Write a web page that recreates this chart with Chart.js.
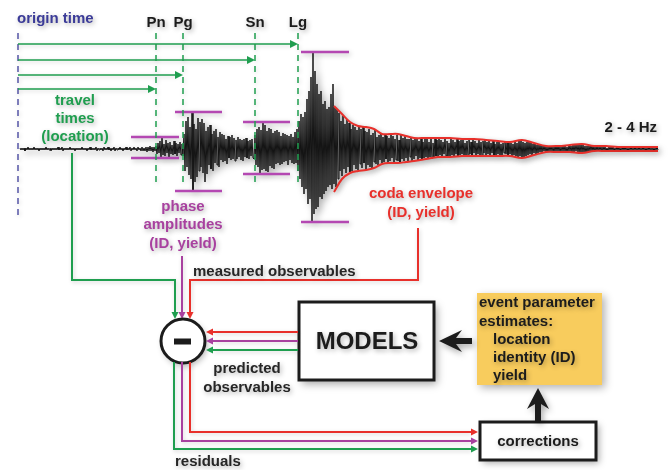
<!DOCTYPE html>
<html>
<head>
<meta charset="utf-8">
<script src="https://cdn.jsdelivr.net/npm/chart.js@4.4.1/dist/chart.umd.min.js"></script>
<style>
  html, body { margin: 0; padding: 0; background: #ffffff; }
  #wrap { width: 670px; height: 470px; }
</style>
</head>
<body>
<div id="wrap"><canvas id="c" width="670" height="470"></canvas></div>
<script>
// ---- seismogram: 2 - 4 Hz band, one sample every 0.25 s after the origin ----
const SAMPLE_START = 0.5;   // s
const SAMPLE_STEP = 0.25;   // s

const preEventNoise = [
  1,-1,1,-1,1,-2,1,-1,2,-1, 1,-1,1,-1,2,-1,1,-1,1,-2, 1,-1,1,-1,1,-1,2,-1,1,-1,
  1,-2,1,-1,1,-1,1,-1,2,-1, 1,-1,2,-2,1,-1,1,-1,1,-1, 2,-1,1,-1,1,-2,1,-1,1,-1,
  1,-1,2,-1,1,-1,1,-2,1,-1, 2,-1,1,-1,1,-1,2,-2,1,-1, 1,-1,1,-2,2,-1,1,-1,2,-1,
  1,-2,1,-1,2,-2,1,-1,1,-1, 2,-1,1,-2,1,-1,2,-1,1,-1, 2,-2,1,-1,2,-1,1,-2,2,-1,
  1,-2,2,-2,1,-2,2,-3,2,-2, 3,-2,2,-3,2,-2];
const pnWave = [3,-5,6,-4,8,-9,12,-6,5,-7, 9,-4,6,-8,7,-5,4,-6,8,-5, 6,-7,5,-4,7,-6,5,-7];
const pgWave = [
  15,-22,28,-18,32,-26,22,-30,37,-42, 25,-33,20,-28,31,-22,27,-18,30,-24,
  26,-33,18,-25,22,-16,24,-20,15,-22, 18,-14,20,-16,12,-18,17,-11,15,-13,
  14,-12,10,-15,13,-9,12,-11,14,-10, 11,-12,9,-10,12,-8,10,-11,9,-12,
  10,-8,11,-9,8,-10,9,-7,10,-9];
const snWave = [
  -10,14,-16,20,-18,22,-25,19,-21,27, -20,24,-22,18,-23,21,-17,20,-19,16,
  -20,18,-15,19,-14,17,-16,13,-15,16, -13,15,-12,14,-16,13,-11,15,-14,12,
  -15,17,-14,20];
const lgWave = [
  -22,28,-30,35,-38,32,-45,37,-40,50, -55,58,-50,72,-73,97,-65,78,-60,65,
  -58,55,-48,58,-50,45,-45,48,-42,40, -38,42,-36,55,-40,65,-35,42,-38,40];
const codaEarly = [
  -30,36,-22,28,-27,33,-20,25,-24,30, -18,26,-23,20,-22,24,-16,22,-20,19,
  -21,23,-15,20,-19,22,-14,18,-21,17, -16,20,-18,14,-19,16,-13,19,-15,12,
  -16,14,-11,15,-14,12,-13,15,-10,13, -14,11,-12,15,-9,13,-13,10,-11,14,
  -12,9,-13,14,-10,11,-12,13,-9,10, -12,10,-8,11,-12,9,-10,11,-7,10,
  -11,8,-9,11,-10,7,-9,10,-8,11, -9,7,-8,10,-9,6,-8,11,-7,9,
  -8,10,-6,9,-8,7,-5,11,-7,8, -8,6,-7,11,-6,9,-8,7,-5,10];
const codaMid = [
  -7,8,-6,9,-5,10,-7,6,-6,8, -7,10,-5,7,-6,9,-4,8,-7,6,
  -5,9,-6,7,-7,8,-4,9,-6,7, -5,8,-7,6,-4,8,-6,5,-7,7,
  -5,8,-6,5,-7,6,-4,7,-5,6, -6,7,-5,6,-7,5,-6,8,-7,6,
  -8,9,-7,8,-9,7,-8,6,-7,7, -6,7,-5,6,-6,5,-4,6,-5,4,
  -4,4,-3,4,-3,3,-2,3,-3,2, -3,3,-2,3,-2,2,-3,3,-2,3];
const codaLate = [
  -2,3,-3,2,-2,3,-2,3,-3,2, -3,4,-2,3,-3,4,-3,4,-2,4,
  -3,4,-4,5,-3,4,-3,3,-4,3, -3,3,-2,4,-2,3,-2,2,-2,3,
  -2,2,-1,2,-2,2,-1,2,-2,1, -2,2,-1,2,-1,2,-2,1,-1,2,
  -1,2,-2,1,-1,2,-1,2,-1,1, -2,1,-1,2,-1,1,-1,2,-1,1,
  -1,2,-1,1,-1,2,-1,1,-2,1, -1,2,-1,1,-1,1,-2,1,-1,2, -1];

// ---- coda envelope fitted to the Lg coda ----
const codaTimes = [79,81,83,85,87,89,91,93,95,97,99,102,105,108,111,114,117,120,123,126,
  129,132,135,138,141,144,147,150,155,160];
const codaUpper = [43,35,27,23,22,20,15,15,15,13,11,11,11,11,10,10,9,8,7,9,6,3,3,4,5,3,3,2,2,2];
const codaLower = [-43,-30,-24,-22,-21,-19,-15,-14,-14,-13,-12,-10,-8,-8,-7,-7,-7,-7,-7,-9,
  -6,-3,-3,-3,-4,-2,-2,-2,-2,-2];

// ---- regional phases: arrival times and measured amplitudes ----
const phaseNames = ['Pn', 'Pg', 'Sn', 'Lg'];
const phaseArrivals = [34.5, 41.25, 59.25, 70];
const phaseWindowStart = [28.25, 39.25, 56.25, 70.75];
const phaseWindowEnd = [40.25, 51, 68, 82.75];
const phasePeak = [12, 37, 27, 97];
const phaseTrough = [-9, -42, -25, -73];

// ---------------------------------------------------------------------------
const waveValues = [].concat(preEventNoise, pnWave, pgWave, snWave, lgWave,
                             codaEarly, codaMid, codaLate);
const wavePoints = waveValues.map((v, i) => ({ x: SAMPLE_START + i * SAMPLE_STEP, y: v }));
const upperPoints = codaTimes.map((t, i) => ({ x: t, y: codaUpper[i] }));
const lowerPoints = codaTimes.map((t, i) => ({ x: t, y: codaLower[i] }));

const RED = '#e8302b', GREEN = '#1f9e4f', MAGENTA = '#a8419f', BARS = '#b448b2',
      BLUE = '#3b3b98', INK = '#1c1c1c';

const datasets = [];
[upperPoints, lowerPoints].forEach(pts => datasets.push({
  data: pts, borderColor: RED, borderWidth: 2, pointRadius: 0, tension: 0.35, shadow: 'soft'
}));
phaseNames.forEach((name, i) => {
  [phasePeak[i], phaseTrough[i]].forEach(level => datasets.push({
    data: [{ x: phaseWindowStart[i], y: level }, { x: phaseWindowEnd[i], y: level }],
    borderColor: BARS, borderWidth: 2.5, pointRadius: 0, shadow: 'soft'
  }));
});
datasets.push({
  data: wavePoints, borderColor: '#141414', borderWidth: 1, pointRadius: 0, tension: 0,
  shadow: 'wave'
});

function setShadow(ctx, blur, dx, dy, alpha) {
  ctx.shadowColor = 'rgba(0,0,0,' + alpha + ')';
  ctx.shadowBlur = blur; ctx.shadowOffsetX = dx; ctx.shadowOffsetY = dy;
}
function clearShadow(ctx) {
  ctx.shadowColor = 'rgba(0,0,0,0)'; ctx.shadowBlur = 0; ctx.shadowOffsetX = 0; ctx.shadowOffsetY = 0;
}
function text(ctx, str, x, y, color, size, align) {
  ctx.save();
  ctx.font = 'bold ' + size + 'px "Liberation Sans", Arial, Helvetica, sans-serif';
  ctx.fillStyle = color;
  ctx.textAlign = align || 'center';
  ctx.textBaseline = 'alphabetic';
  setShadow(ctx, 5, 1.5, 2, 0.3);
  ctx.fillText(str, x, y);
  ctx.restore();
}
function head(ctx, x, y, dir, color, len, half) {
  len = len || 7; half = half || 3.5;
  ctx.save();
  ctx.fillStyle = color;
  ctx.beginPath();
  if (dir === 'down') { ctx.moveTo(x, y); ctx.lineTo(x - half, y - len); ctx.lineTo(x + half, y - len); }
  if (dir === 'up') { ctx.moveTo(x, y); ctx.lineTo(x - half, y + len); ctx.lineTo(x + half, y + len); }
  if (dir === 'left') { ctx.moveTo(x, y); ctx.lineTo(x + len, y - half); ctx.lineTo(x + len, y + half); }
  if (dir === 'right') { ctx.moveTo(x, y); ctx.lineTo(x - len, y - half); ctx.lineTo(x - len, y + half); }
  ctx.closePath(); ctx.fill();
  ctx.restore();
}
function path(ctx, pts, color, width, dash) {
  ctx.save();
  ctx.strokeStyle = color; ctx.lineWidth = width || 2;
  ctx.lineJoin = 'miter'; ctx.lineCap = 'butt';
  if (dash) ctx.setLineDash(dash);
  setShadow(ctx, 4, 1, 1.5, 0.18);
  ctx.beginPath();
  pts.forEach((p, i) => i ? ctx.lineTo(p[0], p[1]) : ctx.moveTo(p[0], p[1]));
  ctx.stroke();
  ctx.restore();
}

const shadowPlugin = {
  id: 'datasetShadow',
  beforeDatasetDraw(chart, args) {
    const kind = chart.data.datasets[args.index].shadow;
    const ctx = chart.ctx;
    ctx.save();
    if (kind === 'wave') setShadow(ctx, 7, 3, 3, 0.4);
    else setShadow(ctx, 5, 1.5, 2, 0.25);
  },
  afterDatasetDraw(chart) { chart.ctx.restore(); }
};

const diagramPlugin = {
  id: 'diagram',
  afterDatasetsDraw(chart) {
    const ctx = chart.ctx;
    const xs = chart.scales.x, ys = chart.scales.y;
    const X = t => xs.getPixelForValue(t);
    const Y = a => ys.getPixelForValue(a);

    // origin time and phase arrival markers
    path(ctx, [[X(0), Y(116)], [X(0), Y(-69)]], '#5656a6', 1.5, [6, 5]);
    phaseArrivals.forEach(t => path(ctx, [[X(t), Y(116)], [X(t), Y(-33)]], GREEN, 1.5, [6, 5]));

    // travel-time arrows, one row per phase
    const rowY = { Lg: 44, Sn: 60, Pg: 75, Pn: 89 };
    phaseNames.forEach((name, i) => {
      const y = rowY[name], xe = X(phaseArrivals[i]);
      path(ctx, [[X(0), y], [xe - 6, y]], GREEN, 1.5);
      head(ctx, xe, y, 'right', GREEN, 8, 4);
      text(ctx, name, X(phaseArrivals[i]), 27, INK, 15);
    });

    text(ctx, 'origin time', 17, 23, BLUE, 15, 'left');
    text(ctx, 'travel', 75, 105, GREEN, 15);
    text(ctx, 'times', 75, 123, GREEN, 15);
    text(ctx, '(location)', 75, 141, GREEN, 15);
    text(ctx, 'phase', 183, 211, MAGENTA, 15);
    text(ctx, 'amplitudes', 183, 229, MAGENTA, 15);
    text(ctx, '(ID, yield)', 183, 248, MAGENTA, 15);
    text(ctx, 'coda envelope', 421, 198, RED, 15);
    text(ctx, '(ID, yield)', 421, 217, RED, 15);
    text(ctx, '2 - 4 Hz', 657, 132, INK, 15, 'right');

    // measured observables into the difference node
    path(ctx, [[72, 153], [72, 280], [175, 280], [175, 312]], GREEN, 2);
    head(ctx, 175, 319, 'down', GREEN, 7, 3.5);
    path(ctx, [[182, 256], [182, 312]], MAGENTA, 2);
    head(ctx, 182, 319, 'down', MAGENTA, 7, 3.5);
    path(ctx, [[418, 228], [418, 280], [190, 280], [190, 312]], RED, 2);
    head(ctx, 190, 319, 'down', RED, 7, 3.5);
    text(ctx, 'measured observables', 193, 276, '#262626', 15, 'left');

    // difference node
    ctx.save();
    setShadow(ctx, 6, 2, 3, 0.3);
    ctx.fillStyle = '#ffffff';
    ctx.beginPath(); ctx.arc(183, 341, 22, 0, Math.PI * 2); ctx.fill();
    clearShadow(ctx);
    ctx.lineWidth = 3; ctx.strokeStyle = INK; ctx.stroke();
    ctx.fillStyle = INK; ctx.fillRect(174, 338.5, 17, 6);
    ctx.restore();

    // MODELS box
    ctx.save();
    setShadow(ctx, 8, 3, 4, 0.35);
    ctx.fillStyle = '#ffffff'; ctx.fillRect(299, 302, 135, 78);
    clearShadow(ctx);
    ctx.lineWidth = 3; ctx.strokeStyle = INK; ctx.strokeRect(299, 302, 135, 78);
    ctx.restore();
    text(ctx, 'MODELS', 367, 349, INK, 24);

    // predicted observables back to the node
    [[332, RED], [341, MAGENTA], [350, GREEN]].forEach(([y, c]) => {
      path(ctx, [[298, y], [213, y]], c, 2);
      head(ctx, 206, y, 'left', c, 7, 3.5);
    });
    text(ctx, 'predicted', 247, 373, '#262626', 15);
    text(ctx, 'observables', 247, 392, '#262626', 15);

    // residuals to corrections
    [[190, 432, RED], [182, 441, MAGENTA], [174, 449, GREEN]].forEach(([x, y, c]) => {
      path(ctx, [[x, 362], [x, y], [471, y]], c, 2);
      head(ctx, 478, y, 'right', c, 7, 3.5);
    });
    text(ctx, 'residuals', 175, 466, '#262626', 15, 'left');

    // corrections box
    ctx.save();
    setShadow(ctx, 7, 3, 3, 0.35);
    ctx.fillStyle = '#ffffff'; ctx.fillRect(480, 422, 116, 38);
    clearShadow(ctx);
    ctx.lineWidth = 3; ctx.strokeStyle = INK; ctx.strokeRect(480, 422, 116, 38);
    ctx.restore();
    text(ctx, 'corrections', 538, 446, INK, 15);

    // event parameter estimates
    ctx.save();
    setShadow(ctx, 8, 3, 3, 0.3);
    ctx.fillStyle = '#f8cc5d'; ctx.fillRect(477, 293, 125, 92);
    ctx.restore();
    text(ctx, 'event parameter', 479, 307, INK, 15, 'left');
    text(ctx, 'estimates:', 479, 326, INK, 15, 'left');
    text(ctx, 'location', 493, 344, INK, 15, 'left');
    text(ctx, 'identity (ID)', 493, 362, INK, 15, 'left');
    text(ctx, 'yield', 493, 380, INK, 15, 'left');

    // bold feedback arrows
    ctx.save();
    setShadow(ctx, 6, 2, 3, 0.35);
    ctx.fillStyle = INK;
    ctx.beginPath();
    ctx.moveTo(439, 341); ctx.lineTo(462, 330); ctx.lineTo(456, 338);
    ctx.lineTo(472, 338); ctx.lineTo(472, 344); ctx.lineTo(456, 344);
    ctx.lineTo(462, 352); ctx.closePath(); ctx.fill();
    ctx.beginPath();
    ctx.moveTo(538, 388); ctx.lineTo(549, 409); ctx.lineTo(541, 404);
    ctx.lineTo(541, 421); ctx.lineTo(535, 421); ctx.lineTo(535, 404);
    ctx.lineTo(527, 409); ctx.closePath(); ctx.fill();
    ctx.restore();
  }
};

new Chart(document.getElementById('c'), {
  type: 'line',
  data: { datasets },
  options: {
    responsive: false,
    animation: false,
    events: [],
    layout: { padding: 0 },
    plugins: { legend: { display: false }, tooltip: { enabled: false } },
    scales: {
      x: { type: 'linear', min: -4.5, max: 163, display: false },
      y: { type: 'linear', min: -321, max: 149, display: false }
    }
  },
  plugins: [shadowPlugin, diagramPlugin, {
    id: 'paper',
    beforeDraw(chart) {
      const c = chart.ctx; c.save(); c.fillStyle = '#ffffff';
      c.fillRect(0, 0, chart.width, chart.height); c.restore();
    }
  }]
});
</script>
</body>
</html>
